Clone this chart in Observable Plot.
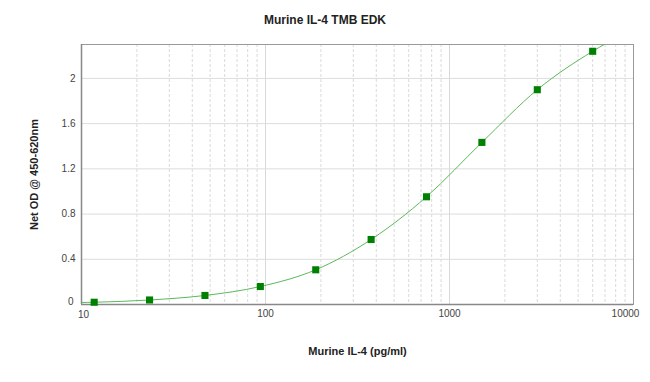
<!DOCTYPE html>
<html>
<head>
<meta charset="utf-8">
<script src="https://cdn.jsdelivr.net/npm/d3@7"></script>
<script src="https://cdn.jsdelivr.net/npm/@observablehq/plot@0.6"></script>
<style>
  body { margin: 0; background: #fff; font-family: "Liberation Sans", Arial, sans-serif; }
  #wrap { position: relative; width: 650px; height: 382px; }
  #title { position: absolute; top: 13px; left: 0; width: 650px; text-align: center; font-weight: bold; font-size: 12px; color: #222; }
</style>
</head>
<body>
<div id="wrap">
  <div id="title">Murine IL-4 TMB EDK</div>
  <div id="chart"></div>
</div>
<script>
const concentrations = [11.72, 23.44, 46.88, 93.75, 187.5, 375, 750, 1500, 3000, 6000];
const netOD = [0.02, 0.04, 0.08, 0.159, 0.307, 0.575, 0.953, 1.434, 1.90, 2.24];
const fitX = [10, 11.72, 23.44, 46.88, 93.75, 187.5, 375, 750, 1500, 3000, 6000, 7100];
const fitY = [0.018, 0.02, 0.04, 0.08, 0.159, 0.307, 0.575, 0.953, 1.434, 1.90, 2.24, 2.31];
const xTicks = [10, 100, 1000, 10000];
const yTicks = [0, 0.4, 0.8, 1.2, 1.6, 2];

const points = concentrations.map((c, i) => ({x: c, y: netOD[i]}));
const fit = fitX.map((c, i) => ({x: c, y: fitY[i]}));
const minorX = [];
for (const d of [10, 100, 1000]) for (let k = 2; k <= 9; k++) minorX.push(d * k);
const majorX = [100, 1000];

const chart = Plot.plot({
  width: 650,
  height: 382,
  marginLeft: 81,
  marginRight: 17,
  marginTop: 44,
  marginBottom: 78,
  style: {fontFamily: "'Liberation Sans', Arial, sans-serif", fontSize: "10px", color: "#444", background: "#fff"},
  x: {type: "log", domain: [10, 10000]},
  y: {domain: [0, 2.3]},
  marks: [
    Plot.ruleX(minorX, {stroke: "#dadada", strokeDasharray: "3,2", strokeWidth: 1}),
    Plot.ruleX(majorX, {stroke: "#d8d8d8", strokeWidth: 1}),
    Plot.ruleY(yTicks.slice(1), {stroke: "#dcdcdc", strokeWidth: 1}),
    Plot.frame({stroke: "#999", strokeWidth: 1}),
    Plot.ruleY([0], {stroke: "#888", strokeWidth: 1.5}),
    Plot.ruleX([10], {stroke: "#888", strokeWidth: 1.5}),
    Plot.axisX(xTicks.slice(1, 3), {tickSize: 0, tickPadding: 5, tickFormat: d => String(d), fill: "#444",
      label: "Murine IL-4 (pg/ml)", labelAnchor: "center", labelArrow: "none", labelOffset: 50}),
    Plot.axisX(xTicks.slice(0, 1), {tickSize: 0, tickPadding: 6, dx: 2, tickFormat: d => String(d), fill: "#444", label: null}),
    Plot.axisX(xTicks.slice(3), {tickSize: 0, tickPadding: 5, dx: -8, tickFormat: d => String(d), fill: "#444", label: null}),
    Plot.axisY(yTicks.slice(1), {tickSize: 0, tickPadding: 6, tickFormat: d => String(d), fill: "#444",
      label: "Net OD @ 450-620nm", labelAnchor: "center", labelArrow: "none", labelOffset: 51}),
    Plot.axisY(yTicks.slice(0, 1), {tickSize: 0, tickPadding: 8, dy: -3, tickFormat: d => String(d), fill: "#444", label: null}),
    Plot.line(fit, {x: "x", y: "y", curve: "monotone-x", stroke: "#5cb85c", strokeWidth: 1, clip: true}),
    Plot.dot(points, {x: "x", y: "y", symbol: "square", r: 4, fill: "#008000", stroke: "none"})
  ]
});
document.getElementById("chart").appendChild(chart);
chart.querySelectorAll("[aria-label='x-axis label'] text, [aria-label='y-axis label'] text").forEach(t => {
  t.setAttribute("font-weight", "bold");
  t.setAttribute("font-size", "11px");
  t.setAttribute("fill", "#222");
});
</script>
</body>
</html>
